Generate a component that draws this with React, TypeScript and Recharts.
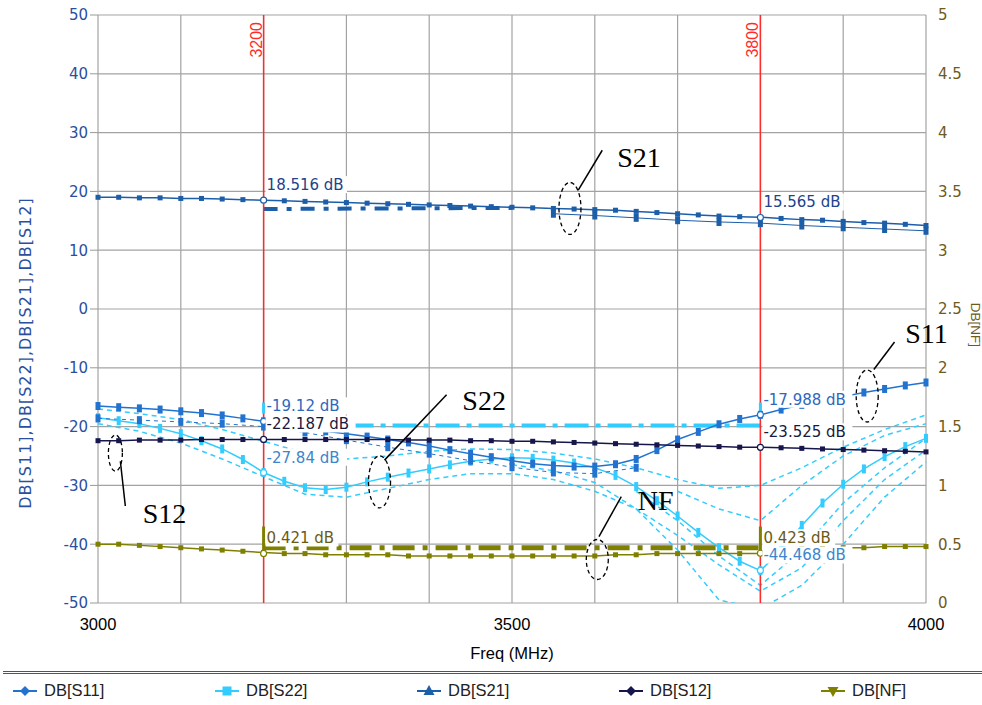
import React from "react";
import { ComposedChart, Line, XAxis, YAxis, CartesianGrid, ReferenceLine, ReferenceDot } from "recharts";

// sweep frequencies (MHz)
const freqs = [
    3000, 3025, 3050, 3075, 3100, 3125, 3150, 3175, 3200, 3225, 3250, 3275, 3300, 3325, 3350, 3375, 3400,
    3425, 3450, 3475, 3500, 3525, 3550, 3575, 3600, 3625, 3650, 3675, 3700, 3725, 3750, 3775, 3800,
    3825, 3850, 3875, 3900, 3925, 3950, 3975, 4000,
];
const s11 = [
    -16.5, -16.7, -16.9, -17.1, -17.4, -17.7, -18.1, -18.6, -19.1, -19.7, -20.3, -20.8, -21.2, -21.7, -22.2, -22.7, -23.3,
    -24.0, -24.6, -25.2, -25.8, -26.3, -26.6, -26.8, -26.8, -26.4, -25.5, -24.0, -22.2, -20.9, -19.6, -18.7, -18.0,
    -17.1, -16.3, -15.6, -14.9, -14.2, -13.6, -13.0, -12.5,
];
const s22 = [
    -18.5, -19.0, -19.5, -20.3, -21.2, -22.4, -23.8, -25.6, -27.8, -29.3, -30.4, -30.7, -30.3, -29.4, -28.6, -27.9, -27.2,
    -26.5, -25.9, -25.5, -25.3, -25.4, -25.7, -26.2, -27.0, -28.3, -30.2, -32.6, -35.2, -38.0, -40.6, -42.9, -44.5,
    -41.0, -36.8, -33.0, -29.8, -27.2, -25.1, -23.4, -22.0,
];
const s21 = [
    19.0, 19.0, 18.9, 18.9, 18.8, 18.8, 18.7, 18.6, 18.5, 18.4, 18.3, 18.2, 18.1, 18.0, 17.9, 17.8, 17.7,
    17.6, 17.5, 17.4, 17.3, 17.2, 17.1, 17.0, 16.9, 16.8, 16.6, 16.4, 16.2, 16.0, 15.8, 15.7, 15.6,
    15.4, 15.2, 15.1, 14.9, 14.7, 14.6, 14.4, 14.2,
];
const s12 = [
    -22.4, -22.4, -22.3, -22.3, -22.3, -22.2, -22.2, -22.2, -22.2, -22.2, -22.2, -22.2, -22.2, -22.2, -22.2, -22.3, -22.3,
    -22.3, -22.4, -22.4, -22.5, -22.5, -22.6, -22.7, -22.8, -22.9, -23.0, -23.1, -23.2, -23.3, -23.4, -23.5, -23.5,
    -23.6, -23.7, -23.8, -23.9, -24.0, -24.1, -24.2, -24.3,
];
const nf = [
    0.50, 0.50, 0.49, 0.48, 0.47, 0.46, 0.45, 0.44, 0.43, 0.42, 0.42, 0.41, 0.41, 0.41, 0.41, 0.40, 0.40,
    0.40, 0.40, 0.40, 0.40, 0.40, 0.40, 0.40, 0.40, 0.41, 0.41, 0.42, 0.42, 0.42, 0.42, 0.42, 0.42,
    0.45, 0.46, 0.47, 0.47, 0.47, 0.48, 0.48, 0.48,
];

// the other tuning sweeps (coarser grid)
const sweepFreqs = [
    3000, 3050, 3100, 3150, 3200, 3250, 3300, 3350, 3400, 3450, 3500, 3550, 3600, 3650, 3700, 3750, 3800,
    3850, 3900, 3950, 4000,
];
const s11Sweep = [-18.6, -18.9, -19.2, -19.5, -20.0, -21.0, -22.3, -23.5, -24.6, -25.8, -26.9, -27.8, -28.0, -27.0, null, null, null, null, null, null, null];
const s21Sweep = [null, null, null, null, null, null, null, null, null, null, null, 16.2, 15.9, 15.5, 15.1, 14.8, 14.6, 14.2, 13.9, 13.6, 13.3];
const s22SweepA = [-17.0, -17.8, -18.8, -20.5, -22.5, -24.5, -25.5, -25.0, -24.2, -23.8, -23.9, -24.5, -25.5, -27.0, -29.0, -30.5, -30.0, -27.0, -23.5, -20.5, -18.0];
const s22SweepB = [-19.5, -20.8, -22.8, -25.5, -28.5, -31.5, -32.0, -30.5, -29.0, -28.0, -28.0, -29.0, -31.0, -34.0, -38.5, -43.5, -48.0, -44.0, -36.0, -29.0, -24.0];
const s22SweepC = [null, null, null, null, null, null, null, null, null, null, -26.5, -27.5, -29.5, -34.0, -41.0, -49.5, -51.0, -47.0, -40.0, -32.0, -26.0];
const s22SweepD = [null, null, null, null, null, null, null, null, null, null, null, null, null, -31.0, -36.0, -42.0, -47.0, -41.0, -33.0, -27.0, -22.0];
const s22SweepE = [null, null, null, null, null, null, null, null, null, null, null, null, null, null, -31.0, -34.0, -36.0, -30.0, -25.0, -21.5, -19.5];

// goal lines between the markers
const s22GoalFreqs = [3200, 3800];
const s22Goal = [-19.8, -19.8];
const s21GoalFreqs = [3200, 3350, 3500];
const s21Goal = [17.0, 17.1, 17.2];
const nfGoalFreqs = [3200, 3800];
const nfGoal = [0.47, 0.47];

// markers
const markerFreqs = [3200, 3800];
const readouts = [
    { f: 3200, v: 18.516, key: "S21" },
    { f: 3200, v: -19.12, key: "S11" },
    { f: 3200, v: -22.187, key: "S12" },
    { f: 3200, v: -27.84, key: "S22" },
    { f: 3200, v: 0.421, key: "NF" },
    { f: 3800, v: 15.565, key: "S21" },
    { f: 3800, v: -17.988, key: "S11" },
    { f: 3800, v: -23.525, key: "S12" },
    { f: 3800, v: 0.423, key: "NF" },
    { f: 3800, v: -44.468, key: "S22" },
];

// hand-drawn notes: text, ring and leader, in data units of the left axis
const notes = [
    { label: "S21", text: [3627, 25.8], ring: [3570, 17.1], lead: [3609, 27.0, 3580, 20.2] },
    { label: "S11", text: [3975, -4.2], ring: [3929, -14.8], lead: [3962, -5.6, 3937, -10.3] },
    { label: "S22", text: [3440, -15.6], ring: [3340, -29.4], lead: [3421, -14.6, 3346, -25.7] },
    { label: "S12", text: [3054, -34.7], ring: [3021, -24.5], lead: [3027, -25.9, 3033, -33.5] },
    { label: "NF", text: [3652, -32.6], ring: [3603, -42.6], lead: [3632, -31.9, 3605, -38.7] },
];

const xTicks = [3000, 3100, 3200, 3300, 3400, 3500, 3600, 3700, 3800, 3900, 4000];
const xTickLabels = [3000, 3500, 4000];
const leftTicks = [-50, -40, -30, -20, -10, 0, 10, 20, 30, 40, 50];
const rightTicks = [0, 0.5, 1, 1.5, 2, 2.5, 3, 3.5, 4, 4.5, 5];

const colors: Record<string, string> = {
    S11: "#2173cf",
    S22: "#33ccff",
    S21: "#1d5ea9",
    S12: "#16164d",
    NF: "#808000",
};
const textColors: Record<string, string> = {
    S11: "#2e68bd",
    S22: "#3b86cc",
    S21: "#23428c",
    S12: "#1a1a40",
    NF: "#6b5a14",
};
const legendItems = [
    { name: "DB[S11]", key: "S11", shape: "diamond" },
    { name: "DB[S22]", key: "S22", shape: "square" },
    { name: "DB[S21]", key: "S21", shape: "up" },
    { name: "DB[S12]", key: "S12", shape: "diamond" },
    { name: "DB[NF]", key: "NF", shape: "down" },
];

const rows = (xs: number[], ys: (number | null)[]) => xs.map((f, i) => ({ f, v: ys[i] }));

const boxDot = (color: string, w: number, h: number) => (p: any) => {
    if (p.cx == null || p.cy == null || p.value == null) return <g key={`d${p.index}`} />;
    return <rect key={`d${p.index}`} x={p.cx - w / 2} y={p.cy - h / 2} width={w} height={h} fill={color} />;
};

const LegendIcon = ({ color, shape }: { color: string; shape: string }) => (
    <svg width={26} height={14} style={{ verticalAlign: "middle" }}>
        <line x1={1} y1={7} x2={25} y2={7} stroke={color} strokeWidth={2} />
        {shape === "diamond" && <polygon points="13,2 18,7 13,12 8,7" fill={color} />}
        {shape === "square" && <rect x={8.5} y={2.5} width={9} height={9} fill={color} />}
        {shape === "up" && <polygon points="13,1 18.5,11 7.5,11" fill={color} />}
        {shape === "down" && <polygon points="7.5,3 18.5,3 13,13" fill={color} />}
    </svg>
);

const App: React.FC = () => {
    const font = "'Liberation Sans', Arial, sans-serif";
    const wideFont = "'DejaVu Sans', Verdana, sans-serif";

    const sweepLine = (ys: (number | null)[], id: string) => (
        <Line
            key={id}
            yAxisId="left"
            data={rows(sweepFreqs, ys)}
            dataKey="v"
            stroke={colors.S22}
            strokeWidth={1.5}
            strokeDasharray="5 4"
            dot={false}
            activeDot={false}
            isAnimationActive={false}
        />
    );

    return (
        <div style={{ position: "absolute", left: 0, top: 0, width: 982, height: 705, background: "#fff", fontFamily: font }}>
            <ComposedChart width={982} height={668} margin={{ top: 15, right: 0, bottom: 0, left: 0 }}>
                <CartesianGrid yAxisId="left" stroke="#a3a3a3" strokeWidth={1.2} />
                <XAxis
                    type="number"
                    dataKey="f"
                    domain={[3000, 4000]}
                    ticks={xTicks}
                    interval={0}
                    height={65}
                    tickLine={false}
                    axisLine={false}
                    tickSize={10}
                    tickMargin={5}
                    tickFormatter={(v: number) => (xTickLabels.includes(v) ? String(v) : "")}
                    tick={{ fill: "#000", fontSize: 16.5, fontFamily: font }}
                    label={(p: any) => (
                        <text x={p.viewBox.x + p.viewBox.width / 2} y={p.viewBox.y + 56} textAnchor="middle" fontSize={16.5} fontFamily={font} fill="#000">
                            Freq (MHz)
                        </text>
                    )}
                />
                <YAxis
                    yAxisId="left"
                    orientation="left"
                    width={98}
                    domain={[-50, 50]}
                    ticks={leftTicks}
                    interval={0}
                    allowDataOverflow
                    axisLine={false}
                    tickSize={8}
                    tickMargin={2}
                    tickLine={{ stroke: "#999" }}
                    tick={{ fill: "#2b4f9e", fontSize: 15, fontFamily: wideFont }}
                    label={(p: any) => {
                        const x = p.viewBox.x + 25;
                        const y = p.viewBox.y + p.viewBox.height / 2 + 44;
                        return (
                            <text x={x} y={y} transform={`rotate(-90, ${x}, ${y})`} textAnchor="middle" dominantBaseline="central" fontSize={16} letterSpacing={1} fontFamily={wideFont} fill="#2b4f9e">
                                DB[S11],DB[S22],DB[S21],DB[S12]
                            </text>
                        );
                    }}
                />
                <YAxis
                    yAxisId="right"
                    orientation="right"
                    width={56}
                    domain={[0, 5]}
                    ticks={rightTicks}
                    interval={0}
                    allowDataOverflow
                    axisLine={false}
                    tickLine={false}
                    tickSize={8}
                    tickMargin={4}
                    tick={{ fill: "#6e5a1e", fontSize: 15, fontFamily: wideFont }}
                    label={(p: any) => {
                        const x = p.viewBox.x + 49;
                        const y = p.viewBox.y + p.viewBox.height / 2 + 16;
                        return (
                            <text x={x} y={y} transform={`rotate(90, ${x}, ${y})`} textAnchor="middle" dominantBaseline="central" fontSize={13.5} fontFamily={font} fill="#6e5a1e">
                                DB[NF]
                            </text>
                        );
                    }}
                />

                {sweepLine(s22SweepA, "s22a")}
                {sweepLine(s22SweepB, "s22b")}
                {sweepLine(s22SweepC, "s22c")}
                {sweepLine(s22SweepD, "s22d")}
                {sweepLine(s22SweepE, "s22e")}
                <Line yAxisId="left" data={rows(s22GoalFreqs, s22Goal)} dataKey="v" stroke={colors.S22} strokeWidth={4} strokeDasharray="24 7 5 7" dot={false} activeDot={false} isAnimationActive={false} />
                <Line yAxisId="left" data={rows(freqs, s22)} dataKey="v" stroke={colors.S22} strokeWidth={1.5} dot={boxDot(colors.S22, 4, 9)} activeDot={false} isAnimationActive={false} />
                <Line yAxisId="left" data={rows(sweepFreqs, s11Sweep)} dataKey="v" stroke={colors.S11} strokeWidth={1} strokeDasharray="4 4" dot={boxDot(colors.S11, 5, 8)} activeDot={false} isAnimationActive={false} />
                <Line yAxisId="left" data={rows(freqs, s11)} dataKey="v" stroke={colors.S11} strokeWidth={1.5} dot={boxDot(colors.S11, 5, 8)} activeDot={false} isAnimationActive={false} />
                <Line yAxisId="left" data={rows(freqs, s12)} dataKey="v" stroke={colors.S12} strokeWidth={1.5} dot={boxDot(colors.S12, 5, 5)} activeDot={false} isAnimationActive={false} />
                <Line yAxisId="left" data={rows(sweepFreqs, s21Sweep)} dataKey="v" stroke={colors.S21} strokeWidth={1} dot={boxDot(colors.S21, 5, 8)} activeDot={false} isAnimationActive={false} />
                <Line yAxisId="left" data={rows(s21GoalFreqs, s21Goal)} dataKey="v" stroke={colors.S21} strokeWidth={4} strokeDasharray="14 9 5 9" dot={false} activeDot={false} isAnimationActive={false} />
                <Line yAxisId="left" data={rows(freqs, s21)} dataKey="v" stroke={colors.S21} strokeWidth={1.5} dot={boxDot(colors.S21, 5, 5)} activeDot={false} isAnimationActive={false} />
                <Line yAxisId="right" data={rows(nfGoalFreqs, nfGoal)} dataKey="v" stroke={colors.NF} strokeWidth={5} strokeDasharray="22 8 5 8" dot={false} activeDot={false} isAnimationActive={false} />
                <Line yAxisId="right" data={rows(freqs, nf)} dataKey="v" stroke={colors.NF} strokeWidth={1.5} dot={boxDot(colors.NF, 5, 5)} activeDot={false} isAnimationActive={false} />

                {markerFreqs.map((f) => (
                    <ReferenceLine
                        key={`m${f}`}
                        x={f}
                        yAxisId="left"
                        stroke="#ff2a2a"
                        strokeWidth={1.5}
                        label={(p: any) => {
                            const x = p.viewBox.x - 2;
                            const y = p.viewBox.y + 7;
                            return (
                                <text x={x} y={y} transform={`rotate(-90, ${x}, ${y})`} textAnchor="end" fontSize={16} fontFamily={font} fill="#ff2a2a">
                                    {f}
                                </text>
                            );
                        }}
                    />
                ))}
                {markerFreqs.map((f) => (
                    <ReferenceLine key={`nfflag${f}`} yAxisId="right" segment={[{ x: f, y: 0.42 }, { x: f, y: 0.65 }]} stroke={colors.NF} strokeWidth={3} />
                ))}
                {markerFreqs.map((f) => (
                    <ReferenceLine key={`s22flag${f}`} yAxisId="left" segment={[{ x: f, y: -15.9 }, { x: f, y: -17.8 }]} stroke={colors.S22} strokeWidth={3} />
                ))}

                {readouts.map((r, i) => (
                    <ReferenceDot
                        key={`r${i}`}
                        x={r.f}
                        y={r.v}
                        yAxisId={r.key === "NF" ? "right" : "left"}
                        r={3}
                        shape={(p: any) => {
                            const text = `${r.v} dB`;
                            return (
                                <g>
                                    <rect x={p.cx + 2} y={p.cy - 24} width={text.length * 8.6 + 4} height={17} fill="#fff" />
                                    <text x={p.cx + 3} y={p.cy - 15} dominantBaseline="central" fontSize={15} fontFamily={wideFont} fill={textColors[r.key]}>
                                        {text}
                                    </text>
                                    <circle cx={p.cx} cy={p.cy} r={3} fill="#fff" stroke={colors[r.key]} strokeWidth={1.2} />
                                </g>
                            );
                        }}
                    />
                ))}

                {notes.map((n) => (
                    <ReferenceLine
                        key={`lead${n.label}`}
                        yAxisId="left"
                        segment={[{ x: n.lead[0], y: n.lead[1] }, { x: n.lead[2], y: n.lead[3] }]}
                        stroke="#000"
                        strokeWidth={1.5}
                    />
                ))}
                {notes.map((n) => (
                    <ReferenceDot
                        key={`ring${n.label}`}
                        x={n.ring[0]}
                        y={n.ring[1]}
                        yAxisId="left"
                        r={10}
                        shape={(p: any) => (
                            <ellipse cx={p.cx} cy={p.cy} rx={n.label === "S12" ? 7 : 11} ry={n.label === "S12" ? 18 : n.label === "NF" ? 20 : 26} fill="none" stroke="#000" strokeWidth={1.3} strokeDasharray="4 3" />
                        )}
                    />
                ))}
                {notes.map((n) => (
                    <ReferenceDot
                        key={`note${n.label}`}
                        x={n.text[0]}
                        y={n.text[1]}
                        yAxisId="left"
                        r={10}
                        ifOverflow="visible"
                        shape={(p: any) => (
                            <text x={p.cx} y={p.cy} dominantBaseline="central" fontSize={28} fontFamily="'Liberation Serif', 'Times New Roman', serif" fill="#000">
                                {n.label}
                            </text>
                        )}
                    />
                ))}
            </ComposedChart>

            <div
                style={{
                    position: "absolute",
                    left: 3,
                    top: 671,
                    width: 979,
                    height: 31,
                    borderTop: "3px double #555",
                    borderBottom: "1px solid #666",
                }}
            >
                {legendItems.map((it, i) => (
                    <div key={it.key} style={{ position: "absolute", left: 9 + i * 202, top: 6, whiteSpace: "nowrap", fontSize: 16.5, color: "#222" }}>
                        <LegendIcon color={colors[it.key]} shape={it.shape} />
                        <span style={{ marginLeft: 6, verticalAlign: "middle" }}>{it.name}</span>
                    </div>
                ))}
            </div>
        </div>
    );
};

export default App;
